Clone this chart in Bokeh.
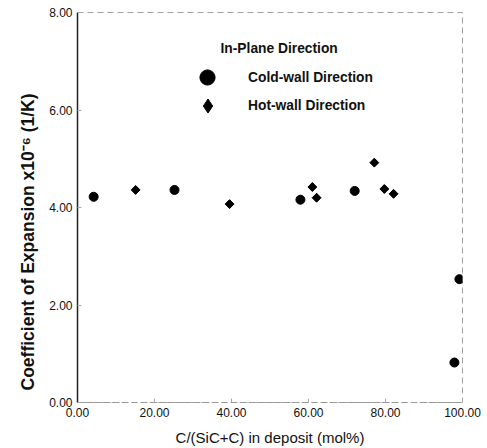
import numpy as np
from bokeh.plotting import figure
from bokeh.models import (ColumnDataSource, FixedTicker, PrintfTickFormatter,
                          Legend, LegendItem, Range1d, Label, Title)
from bokeh.embed import file_html
from bokeh.resources import INLINE

# Data
cold_x = [4.2, 25.2, 57.9, 72.0, 99.2, 97.9]
cold_y = [4.22, 4.36, 4.16, 4.34, 2.53, 0.82]
hot_x = [15.1, 39.5, 61.0, 62.1, 77.1, 79.7, 82.1]
hot_y = [4.36, 4.07, 4.42, 4.20, 4.92, 4.38, 4.28]

x_ticks = [0, 20, 40, 60, 80, 100]
y_ticks = [0, 2, 4, 6, 8]

FONT = "Liberation Sans"

p = figure(width=487, height=448, output_backend="svg", toolbar_location=None,
           x_range=Range1d(0, 100), y_range=Range1d(0, 8),
           min_border_left=77, min_border_right=25, min_border_top=12,
           min_border_bottom=46)

p.xgrid.visible = False
p.ygrid.visible = False
p.background_fill_color = "white"
p.border_fill_color = "white"
p.outline_line_color = "#a0a0a0"
p.outline_line_dash = "6 4"
p.outline_line_width = 1

# Axes
p.xaxis.ticker = FixedTicker(ticks=x_ticks)
p.yaxis.ticker = FixedTicker(ticks=y_ticks)
p.xaxis.formatter = PrintfTickFormatter(format="%.2f")
p.yaxis.formatter = PrintfTickFormatter(format="%.2f")
for ax in (p.xaxis[0], p.yaxis[0]):
    ax.major_label_text_font = FONT
    ax.major_label_text_font_size = "12px"
    ax.major_label_text_color = "#111111"
    ax.axis_label_text_font = FONT
    ax.axis_label_text_color = "#111111"
    ax.minor_tick_line_color = None
    ax.major_tick_out = 0
    ax.major_tick_in = 4
    ax.major_tick_line_color = "#aaaaaa"
    ax.major_label_standoff = 5

p.yaxis.axis_line_color = "#222222"
p.yaxis.axis_line_width = 1.5
p.xaxis.axis_line_color = "#999999"
p.xaxis.axis_line_dash = "6 3"

p.xaxis.axis_label = "C/(SiC+C) in deposit (mol%)"
p.xaxis.axis_label_text_font_size = "15px"
p.xaxis.axis_label_text_font_style = "normal"
p.xaxis.axis_label_standoff = 9

# Y-axis title as a side title (sits lower than the frame centre)
ytitle = Title(text="Coefficient of Expansion x10\u207b\u2076 (1/K)",
               align="left", offset=12, standoff=17,
               text_font=FONT, text_font_size="17.5px", text_font_style="bold",
               text_color="#111111")
p.add_layout(ytitle, "left")

# Data marks
cold_src = ColumnDataSource(dict(x=cold_x, y=cold_y))
hot_src = ColumnDataSource(dict(x=hot_x, y=hot_y))
r_cold = p.scatter("x", "y", source=cold_src, marker="circle", size=9,
                   fill_color="black", line_color="black")
# diamond renderer (used for the legend swatch), covered by the rotated squares
r_hot_leg = p.scatter("x", "y", source=hot_src, marker="diamond", size=8,
                      fill_color="black", line_color="black")
r_hot = p.scatter("x", "y", source=hot_src, marker="square", size=6.3,
                  angle=np.pi / 4, fill_color="black", line_color="black")

# Legend title
title = Label(x=143, y=354, x_units="screen", y_units="screen",
              text="In-Plane Direction", text_align="left",
              text_baseline="alphabetic", text_font=FONT,
              text_font_size="13.8px", text_font_style="bold",
              text_color="#111111")
p.add_layout(title)

common = dict(label_text_font=FONT, label_text_font_size="13.8px",
              label_text_font_style="bold", label_text_color="#111111",
              padding=0, margin=0, spacing=0,
              border_line_color=None, background_fill_alpha=0)

leg1 = Legend(items=[LegendItem(label="Cold-wall Direction", renderers=[r_cold])],
              location=(111, 306), glyph_width=38, glyph_height=38,
              label_standoff=22, label_height=38, **common)
leg2 = Legend(items=[LegendItem(label="Hot-wall Direction", renderers=[r_hot_leg])],
              location=(113, 279), glyph_width=35, glyph_height=35,
              label_standoff=23, label_height=35, **common)
p.add_layout(leg1)
p.add_layout(leg2)

open("out.html", "w").write(file_html(p, INLINE))
